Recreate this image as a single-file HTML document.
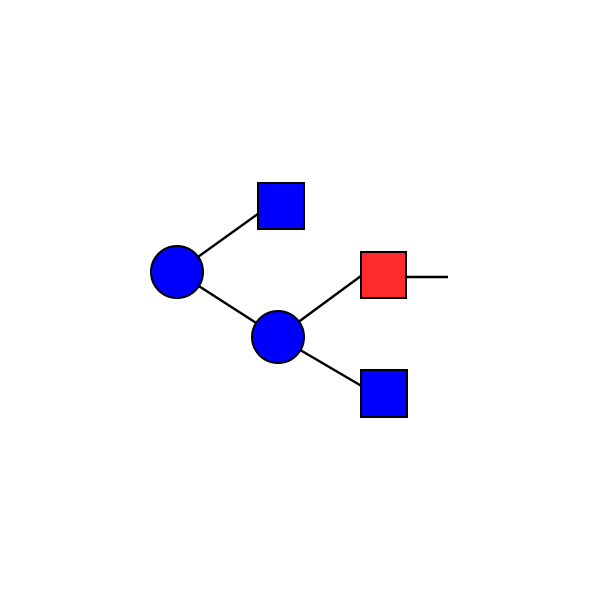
<!DOCTYPE html>
<html><head><style>body{margin:0;background:#fff}</style></head><body>
<svg width="600" height="600" xmlns="http://www.w3.org/2000/svg">
<g stroke="#000" stroke-width="2.4">
<line x1="177" y1="272" x2="262" y2="211"/>
<line x1="177" y1="272" x2="278" y2="337"/>
<line x1="278" y1="337" x2="365" y2="273"/>
<line x1="278" y1="337" x2="365" y2="388"/>
<line x1="400" y1="277" x2="448" y2="277"/>
</g>
<g stroke="#000" stroke-width="2">
<rect x="258" y="183" width="46" height="46" fill="#0000ff"/>
<rect x="361" y="252" width="45" height="46" fill="#ff2a2a"/>
<rect x="361" y="370" width="46" height="47" fill="#0000ff"/>
<circle cx="177" cy="272" r="26" fill="#0000ff"/>
<circle cx="278" cy="337" r="26" fill="#0000ff"/>
</g>
</svg>
</body></html>
